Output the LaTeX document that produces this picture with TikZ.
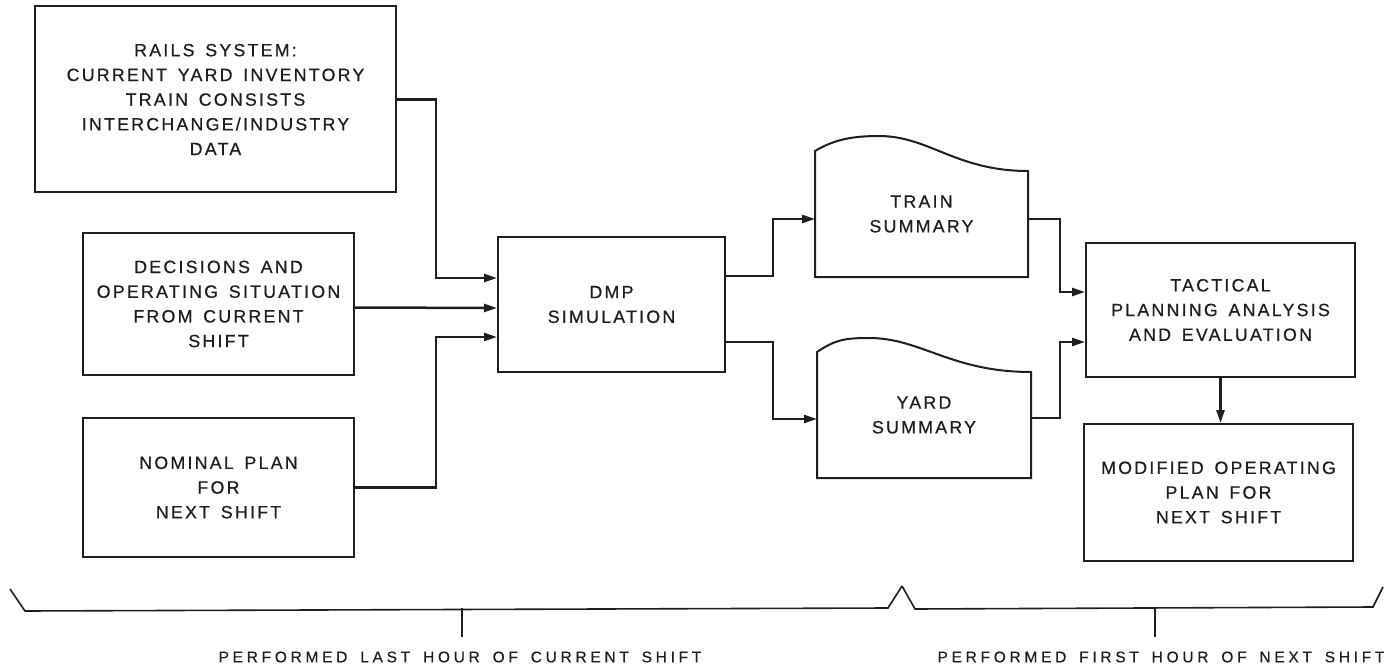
\documentclass[tikz,border=0pt]{standalone}
\usepackage{fontspec}
\setmainfont{Liberation Sans}
\newfontfamily\boxfont[LetterSpace=12.5,WordSpace=1.5,FakeBold=0.6]{Liberation Sans}
\newfontfamily\capfont[LetterSpace=24,WordSpace=1.6,FakeBold=0.4]{Liberation Sans}
\usepackage{tikz}
\usetikzlibrary{positioning,arrows.meta,calc}
\definecolor{inkgray}{HTML}{1E1E1E}

\begin{document}
\begin{tikzpicture}[x=1pt,y=-1pt,
    blk/.style={draw=inkgray, line width=2pt, align=center, inner sep=0pt, text=inkgray,
      font={\boxfont\fontsize{17.8}{24.7}\selectfont}},
    docu/.style={blk, draw=none},
    edge/.style={draw=inkgray, line width=2pt, line join=miter},
    flow/.style={draw=inkgray, line width=2.5pt, -{Triangle[length=13pt,width=8pt]}},
    brace/.style={draw=inkgray, line width=1.6pt, line join=miter},
    caption/.style={inner sep=0pt, text=inkgray, font={\capfont\fontsize{15.5}{18}\selectfont}}]
  \useasboundingbox (0,0) rectangle (1384,671);

  \node[blk, minimum width=361pt, minimum height=186pt] (rails) at (215.5,99.5)
    {RAILS SYSTEM:\\CURRENT YARD INVENTORY\\TRAIN CONSISTS\\INTERCHANGE/INDUSTRY\\DATA};
  \node[blk, minimum width=271pt, minimum height=142pt] (decisions) at (218.5,304)
    {DECISIONS AND\\OPERATING SITUATION\\FROM CURRENT\\SHIFT};
  \node[blk, minimum width=271pt, minimum height=139pt] (nominal) at (218.5,487.5)
    {NOMINAL PLAN\\FOR\\NEXT SHIFT};
  \node[blk, minimum width=227pt, minimum height=135pt] (dmp) at (611.5,304.5)
    {DMP\\SIMULATION};
  \node[docu, minimum width=211pt, minimum height=124pt] (train) at (921.5,214)
    {TRAIN\\SUMMARY};
  \node[docu, minimum width=212pt, minimum height=124pt] (yard) at (924,415)
    {YARD\\SUMMARY};
  \node[blk, minimum width=269pt, minimum height=134pt] (tactical) at (1220.5,310)
    {TACTICAL\\PLANNING ANALYSIS\\AND EVALUATION};
  \node[blk, minimum width=269pt, minimum height=137pt] (modified) at (1218.5,492.5)
    {MODIFIED OPERATING\\PLAN FOR\\NEXT SHIFT};

  \draw[edge] (train.south west) -- (train.north west)
    .. controls +(20,-12) and +(-25,0) .. ($(train.north west)+(64,-15)$)
    .. controls +(50,0) and +(-72,0) .. ([yshift=-20pt]train.north east)
    -- (train.south east) -- cycle;
  \draw[edge] (yard.south west) -- (yard.north west)
    .. controls +(18,-12) and +(-25,0) .. ($(yard.north west)+(52,-14)$)
    .. controls +(52,0) and +(-80,0) .. ([yshift=-20pt]yard.north east)
    -- (yard.south east) -- cycle;

  \draw[flow] (rails.east) -| (436,278) -- ([yshift=26.5pt]dmp.west);
  \draw[flow] ([yshift=-3.5pt]decisions.east) -- ([yshift=-3.5pt]dmp.west);
  \draw[flow] (nominal.east) -| (436,337) -- ([yshift=-32.5pt]dmp.west);
  \draw[flow] ([yshift=28.5pt]dmp.east) -| (773,219) -- ([yshift=-5pt]train.west);
  \draw[flow] ([yshift=-37.5pt]dmp.east) -| (773,419) -- ([yshift=-4pt]yard.west);
  \draw[flow] ([yshift=-5pt]train.east) -| (1060,292) -- ([yshift=18pt]tactical.west);
  \draw[flow] ([yshift=-3pt]yard.east) -| (1060,342) -- ([yshift=-32pt]tactical.west);
  \draw[flow] (tactical.south) -- (tactical.south |- modified.north);

  \draw[brace] (10,589) -- (25,611) -- (888,608) -- (902,586);
  \draw[brace] (902,586) -- (915,609) -- (1373,607) -- (1383,587);
  \coordinate (lastmid) at (462,608);
  \coordinate (firstmid) at (1155,608);
  \node[caption] (lastlbl) at (460,657) {PERFORMED LAST HOUR OF CURRENT SHIFT};
  \node[caption] (firstlbl) at (1161,657) {PERFORMED FIRST HOUR OF NEXT SHIFT};
  \draw[brace, line width=1.2pt, shorten >=14pt] (lastmid) -- (lastmid |- lastlbl.north);
  \draw[brace, line width=1.2pt, shorten >=14pt] (firstmid) -- (firstmid |- firstlbl.north);
\end{tikzpicture}
\end{document}
